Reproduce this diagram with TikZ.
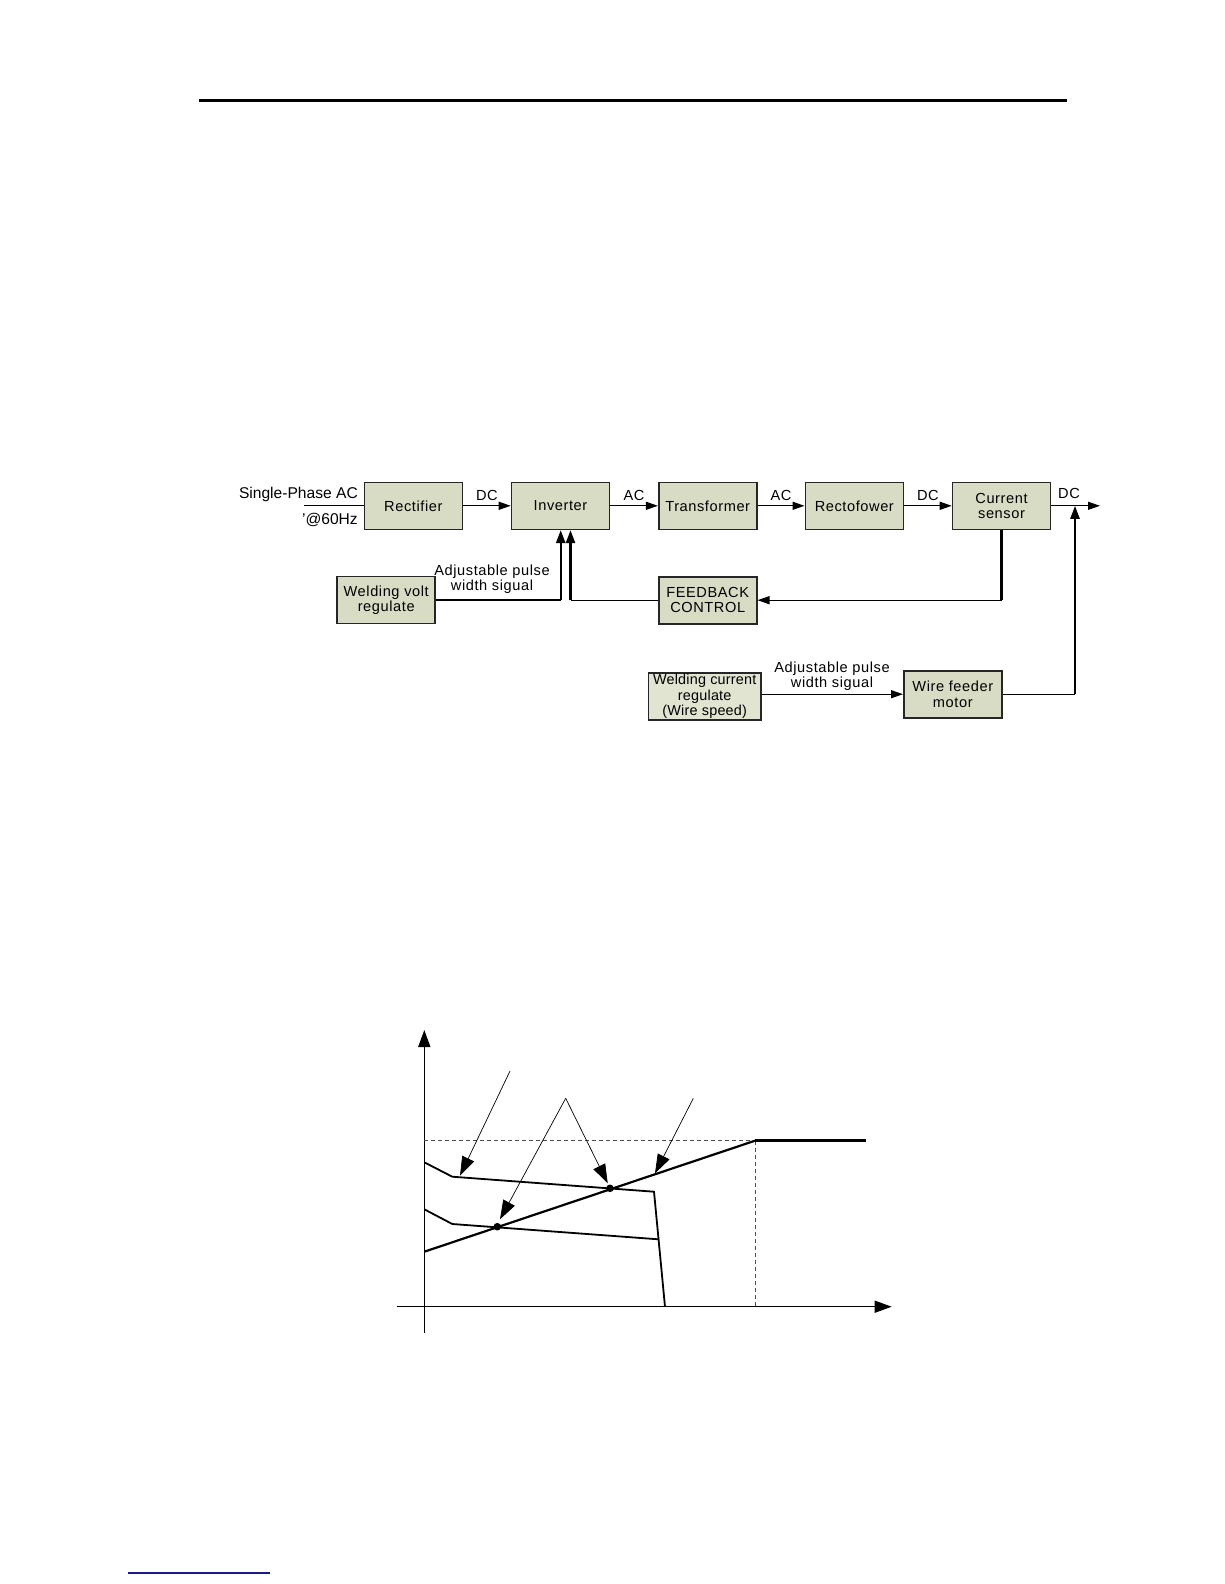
\documentclass[tikz,border=0pt]{standalone}
\usepackage{fontspec}
\setmainfont{Liberation Sans}
\usetikzlibrary{arrows.meta,calc}
\definecolor{boxfill}{HTML}{D9DCC5}
\definecolor{boxfillb}{HTML}{E2E4D2}
\definecolor{linkblue}{HTML}{1A1A8C}
\tikzset{
  blk/.style={draw=black!85, line width=1.6pt, fill=boxfill, inner sep=0pt,
    minimum width=98pt, minimum height=47pt, align=center,
    font=\fontsize{14.6}{15.5}\selectfont\addfontfeature{LetterSpace=4}},
  lbl/.style={inner sep=0pt, align=center,
    font=\fontsize{14.6}{15}\selectfont\addfontfeature{LetterSpace=4}},
  sig/.style={line width=1.2pt, -{Triangle[length=12pt,width=8pt]}},
  plain/.style={line width=1.2pt},
  thk/.style={line width=2.4pt},
  thkarr/.style={line width=2.4pt, -{Triangle[length=13pt,width=9pt]}},
  curve/.style={line width=1.8pt},
  ann/.style={line width=0.7pt, -{Triangle[length=19pt,width=13pt]}},
  axis/.style={line width=1.5pt, -{Triangle[length=17pt,width=12pt]}},
  dsh/.style={line width=1pt, black!70, dash pattern=on 4pt off 3pt},
}
\begin{document}
\begin{tikzpicture}[x=1pt,y=-1pt]
\useasboundingbox (0,0) rectangle (1224,1584);
% header and footer rules
\draw[line width=3pt] (199,101) -- (1067,101);
\draw[line width=2pt, linkblue] (128,1573) -- (270,1573);

% ---------------- block diagram ----------------
\node[blk] (rect) at (413.3,505.8) {Rectifier};
\node[blk] (inv) at (560.5,505.8) {Inverter};
\node[blk] (trans) at (707.7,505.8) {Transformer};
\node[blk] (recto) at (854.3,505.8) {Rectofower};
\node[blk] (cur) at (1001.5,505.8) {Current\\sensor};
\node[blk] (wvolt) at (386.2,600) {Welding volt\\regulate};
\node[blk] (fb) at (707.7,600.2) {FEEDBACK\\CONTROL};
\node[blk, fill=boxfillb, minimum width=112.7pt,
  font=\fontsize{14.4}{15.5}\selectfont\addfontfeature{LetterSpace=1.5}] (wcur) at (704.7,696.7) {Welding current\\regulate\\(Wire speed)};
\node[blk] (wfm) at (952.8,694.2) {Wire feeder\\motor};

\coordinate (in) at (304,505.8);
\coordinate (out) at (1100,505.8);
\coordinate (jn) at (1075,505.8);

\node[lbl, anchor=east, font=\fontsize{15.6}{16}\selectfont] (spac) at (358,494) {Single-Phase AC};
\node[lbl, anchor=east, font=\fontsize{15.6}{16}\selectfont] (hz) at (358,520) {'@60Hz};

\draw[plain] (in) -- (rect.west);
\draw[sig] (rect.east) -- node[lbl, above=5pt] (l1) {DC} (inv.west);
\draw[sig] (inv.east) -- node[lbl, above=5pt] (l2) {AC} (trans.west);
\draw[sig] (trans.east) -- node[lbl, above=5pt] (l3) {AC} (recto.west);
\draw[sig] (recto.east) -- node[lbl, above=5pt] (l4) {DC} (cur.west);
\draw[sig] (cur.east) -- (out);
\node[lbl] (l5) at (1069,493) {DC};

% inverter control inputs
\coordinate (ia) at ($(inv.south)+(0.2,0)$);
\coordinate (ib) at ($(inv.south)+(10,0)$);
\draw[plain] (wvolt.east) -- (wvolt.east -| ia);
\draw[thkarr] (wvolt.east -| ia) -- (ia);
\draw[plain] (fb.west) -- (fb.west -| ib);
\draw[thkarr] (fb.west -| ib) -- (ib);
\node[lbl] (pw1) at (492,579) {Adjustable pulse\\width sigual};

% feedback from current sensor
\draw[thk] (cur.south) -- (cur.south |- fb.east);
\draw[sig] (cur.south |- fb.east) -- (fb.east);

% wire feeder
\draw[sig] (wfm.west -| wcur.east) -- (wfm.west);
\node[lbl] (pw2) at (832,676) {Adjustable pulse\\width sigual};
\draw[plain] (wfm.east) -- (wfm.east -| jn);
\draw[thkarr] (wfm.east -| jn) -- (jn);

% ---------------- characteristic graph ----------------
\coordinate (O) at (424.3,1306.7);
\draw[axis] (424.3,1333) -- (424.3,1030);
\draw[axis] (396.7,1306.7) -- (891.7,1306.7);
\draw[dsh] (424.3,1140.7) -- (755,1140.7);
\draw[dsh] (755,1140.7) -- (755,1306.7);
\draw[line width=2.8pt] (755,1140.7) -- (866,1140.7);
\draw[line width=2.2pt] (424.3,1251.7) -- (755,1140.7);
\draw[curve] (424.3,1162.3) -- (452.3,1176.7) -- (654,1191.7) -- (665,1306.7);
\draw[curve] (424.3,1209.3) -- (452.3,1224) -- (658.5,1239.3);
\fill (610,1188.3) circle (3.8pt);
\fill (497.3,1226.7) circle (3.8pt);
\draw[ann] (510,1071) -- (460,1175.7);
\draw[ann] (565.7,1098.3) -- (607.7,1183.3);
\draw[ann] (565.7,1098.3) -- (500,1219.3);
\draw[ann] (693.3,1098.3) -- (655,1173.3);
\end{tikzpicture}
\end{document}
